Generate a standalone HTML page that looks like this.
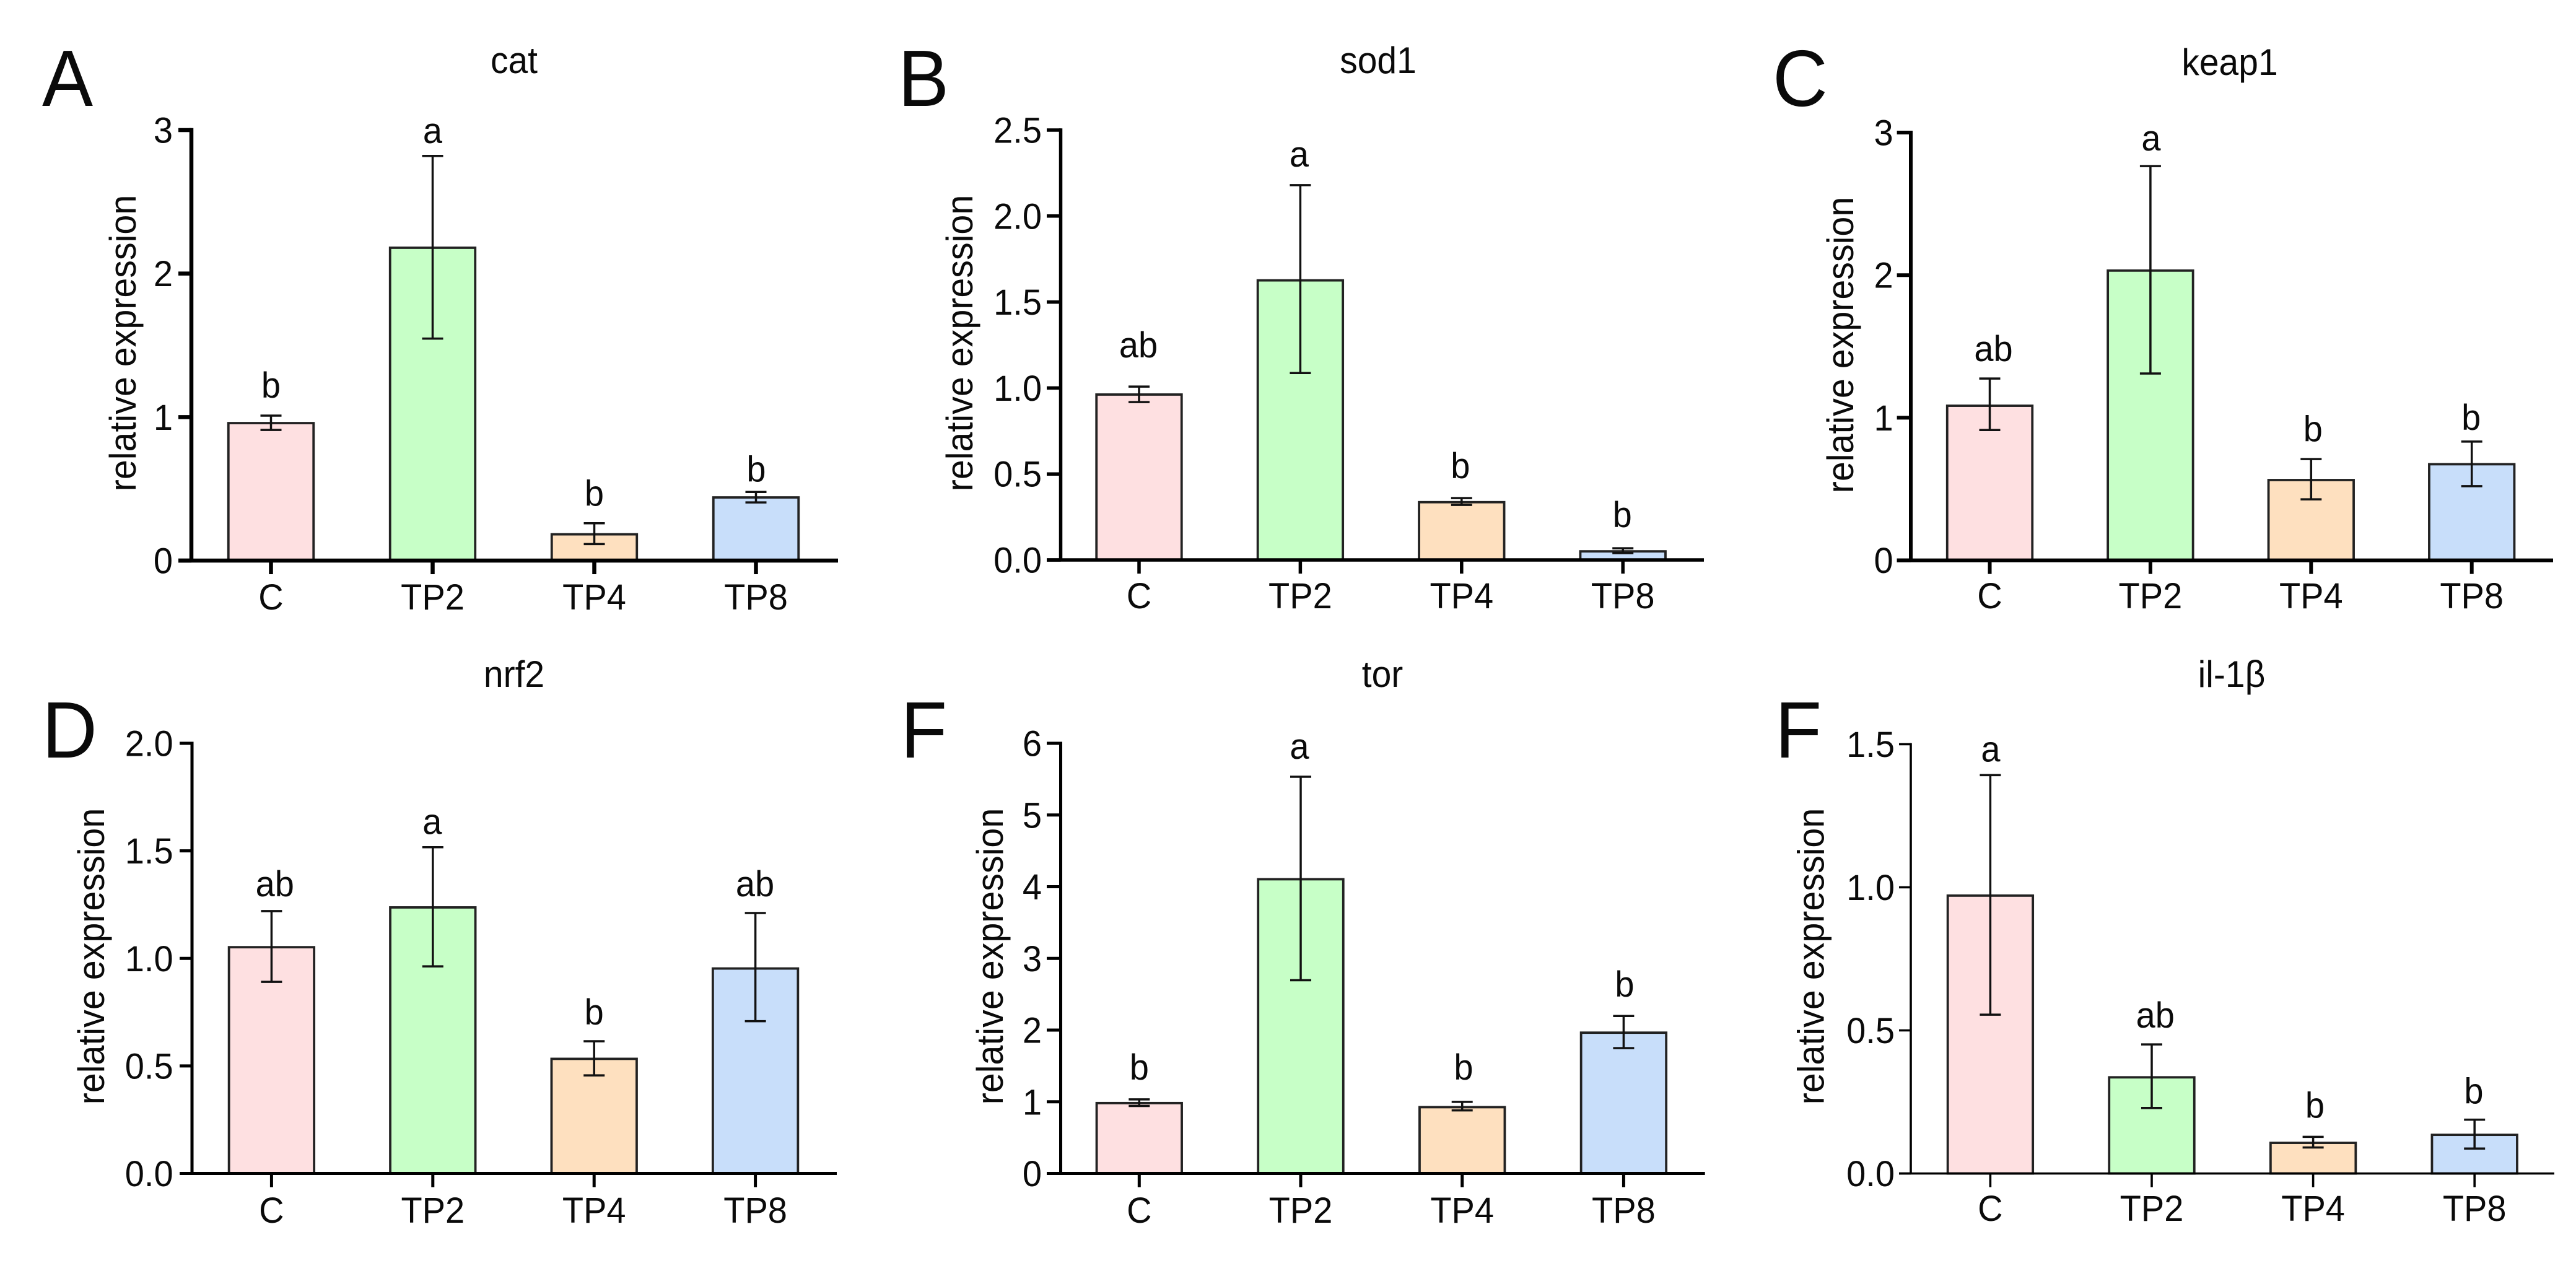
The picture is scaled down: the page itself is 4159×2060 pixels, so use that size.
<!DOCTYPE html>
<html lang="en">
<head>
<meta charset="utf-8">
<title>Relative expression bar charts</title>
<style>
html,body{margin:0;padding:0;background:#fff;}
svg{display:block;}
text{font-family:"Liberation Sans",Arial,sans-serif;fill:#0a0a0a;}
</style>
</head>
<body>
<svg id="figure" xmlns="http://www.w3.org/2000/svg" width="4159" height="2060" viewBox="0 0 4159 2060">
<rect x="0" y="0" width="4159" height="2060" fill="#ffffff"/>
</svg>
<script>
const categories = ['C', 'TP2', 'TP4', 'TP8'];
const yAxisTitle = 'relative expression';

const catMeans = [0.958, 2.18, 0.183, 0.44];
const catUpper = [1.01, 2.82, 0.26, 0.478];
const catLower = [0.91, 1.547, 0.115, 0.405];
const catLetters = ['b', 'a', 'b', 'b'];
const catTicks = ['0', '1', '2', '3'];

const sodMeans = [0.962, 1.626, 0.336, 0.05];
const sodUpper = [1.008, 2.18, 0.36, 0.068];
const sodLower = [0.918, 1.087, 0.32, 0.04];
const sodLetters = ['ab', 'a', 'b', 'b'];
const sodTicks = ['0.0', '0.5', '1.0', '1.5', '2.0', '2.5'];

const keapMeans = [1.084, 2.032, 0.563, 0.674];
const keapUpper = [1.275, 2.765, 0.71, 0.833];
const keapLower = [0.914, 1.31, 0.428, 0.52];
const keapLetters = ['ab', 'a', 'b', 'b'];
const keapTicks = ['0', '1', '2', '3'];

const nrfMeans = [1.052, 1.237, 0.533, 0.953];
const nrfUpper = [1.22, 1.517, 0.615, 1.211];
const nrfLower = [0.891, 0.963, 0.456, 0.708];
const nrfLetters = ['ab', 'a', 'b', 'ab'];
const nrfTicks = ['0.0', '0.5', '1.0', '1.5', '2.0'];

const torMeans = [0.982, 4.104, 0.925, 1.964];
const torUpper = [1.033, 5.534, 0.999, 2.197];
const torLower = [0.942, 2.696, 0.88, 1.748];
const torLetters = ['b', 'a', 'b', 'b'];
const torTicks = ['0', '1', '2', '3', '4', '5', '6'];

const ilMeans = [0.971, 0.336, 0.107, 0.135];
const ilUpper = [1.392, 0.451, 0.128, 0.188];
const ilLower = [0.555, 0.229, 0.091, 0.087];
const ilLetters = ['a', 'ab', 'b', 'b'];
const ilTicks = ['0.0', '0.5', '1.0', '1.5'];

const barFills = ['#fee0e1', '#c7ffc7', '#fee0bf', '#c8defa'];

const panels = [
  {id:'cat', title:'cat', tag:'A', means:catMeans, upper:catUpper, lower:catLower, letters:catLetters, ticks:catTicks,
   layout:{axisX:309, top:210, base:905, left:288, right:1353, first:437.5, step:261, axisW:6.5, tickEnd:279, titleX:830, titleY:118, tagX:68, tagY:171, ytX:219, ytY:554, xlY:984, lift:[29,20.6,28.3,17], dx:[0,0,0,0.5]}},
  {id:'sod1', title:'sod1', tag:'B', means:sodMeans, upper:sodUpper, lower:sodLower, letters:sodLetters, ticks:sodTicks,
   layout:{axisX:1712.5, top:210, base:904, left:1690, right:2751, first:1839, step:260.4, axisW:5.5, tickEnd:1682, titleX:2225, titleY:118, tagX:1450, tagY:171, ytX:1570, ytY:554, xlY:982, lift:[47,30,32,34], dx:[-1,-2,-2,-1]}},
  {id:'keap1', title:'keap1', tag:'C', means:keapMeans, upper:keapUpper, lower:keapLower, letters:keapLetters, ticks:keapTicks,
   layout:{axisX:3085, top:214, base:904.6, left:3062.6, right:4122, first:3212.5, step:259.4, axisW:6, tickEnd:3056.7, titleX:3600, titleY:121, tagX:2862, tagY:171, ytX:2992, ytY:557, xlY:982, lift:[28,25,28.6,19], dx:[6,1,3,-1]}},
  {id:'nrf2', title:'nrf2', tag:'D', means:nrfMeans, upper:nrfUpper, lower:nrfLower, letters:nrfLetters, ticks:nrfTicks,
   layout:{axisX:310, top:1200, base:1894.5, left:290, right:1351, first:438.4, step:260.4, axisW:5, tickEnd:279.6, titleX:830, titleY:1109, tagX:68, tagY:1223, ytX:168, ytY:1544, xlY:1974, lift:[23.8,21,27,27], dx:[5.4,-1,0,-0.6]}},
  {id:'tor', title:'tor', tag:'F', means:torMeans, upper:torUpper, lower:torLower, letters:torLetters, ticks:torTicks,
   layout:{axisX:1712.5, top:1200, base:1894.5, left:1690, right:2752.7, first:1839.3, step:260.7, axisW:5, tickEnd:1682, titleX:2232, titleY:1109, tagX:1454, tagY:1223, ytX:1618.8, ytY:1544, xlY:1974, lift:[32,29,36,31], dx:[0,-2,2.3,1.6]}},
  {id:'il-1b', title:'il-1\u03b2', tag:'F', means:ilMeans, upper:ilUpper, lower:ilLower, letters:ilLetters, ticks:ilTicks,
   layout:{axisX:3085, top:1201.5, base:1894.5, left:3066, right:4124, first:3213.4, step:260.6, axisW:3.6, tickEnd:3059, titleX:3603, titleY:1109, tagX:2866, tagY:1223, ytX:2944.7, ytY:1544, xlY:1971, lift:[22,27,31,26], dx:[0.6,5.7,2.8,-1.2]}}
];

const SVG_NS = 'http://www.w3.org/2000/svg';
const figure = document.getElementById('figure');
const TEXT_STRETCH = 1.05;

function make(tag, attrs, parent, content) {
  const node = document.createElementNS(SVG_NS, tag);
  for (const key in attrs) { node.setAttribute(key, attrs[key]); }
  if (content !== undefined) { node.textContent = content; }
  parent.appendChild(node);
  return node;
}

function stretchAt(x, y, rotation) {
  return 'translate(' + x + ' ' + y + ') ' + (rotation ? 'rotate(' + rotation + ') ' : '') + 'scale(1 ' + TEXT_STRETCH + ')';
}

function drawPanel(p) {
  const L = p.layout;
  const maxValue = Number(p.ticks[p.ticks.length - 1]);
  const yScale = function (v) { return L.base - (v / maxValue) * (L.base - L.top); };
  const xScale = function (i) { return L.first + i * L.step; };
  const barWidth = 137.5;
  const capHalf = 17;
  let el;

  const g = make('g', {}, figure);
  
  

  el = make('text', {transform:stretchAt(L.tagX, L.tagY), 'font-size':123}, g, p.tag);
  
  

  el = make('text', {transform:stretchAt(L.titleX, L.titleY), 'font-size':57, 'text-anchor':'middle'}, g, p.title);
  
  

  el = make('text', {transform:stretchAt(L.ytX, L.ytY, -90), 'font-size':57.4, 'text-anchor':'middle'}, g, yAxisTitle);
  
  

  categories.forEach(function (cat, i) {
    const cx = xScale(i);
    const topY = yScale(p.means[i]);

    el = make('rect', {x:cx - barWidth / 2, y:topY, width:barWidth, height:L.base - topY, fill:barFills[i], stroke:'#222222', 'stroke-width':3.8}, g);
    
    

    const upY = yScale(p.upper[i]);
    const loY = yScale(p.lower[i]);
    el = make('path', {d:'M' + (cx - capHalf) + ' ' + upY + 'H' + (cx + capHalf) + 'M' + cx + ' ' + upY + 'V' + loY + 'M' + (cx - capHalf) + ' ' + loY + 'H' + (cx + capHalf), fill:'none', stroke:'#111111', 'stroke-width':3.5}, g);
    
    

    el = make('text', {transform:stretchAt(cx + L.dx[i], upY - L.lift[i]), 'font-size':56, 'text-anchor':'middle'}, g, p.letters[i]);
    
    

    el = make('line', {x1:cx, x2:cx, y1:L.base, y2:L.base + 22, stroke:'#000000', 'stroke-width':L.axisW}, g);
    
    

    el = make('text', {transform:stretchAt(cx, L.xlY), 'font-size':56, 'text-anchor':'middle'}, g, cat);
    
    
  });

  p.ticks.forEach(function (label) {
    const ty = yScale(Number(label));

    el = make('line', {x1:L.left, x2:L.axisX, y1:ty, y2:ty, stroke:'#000000', 'stroke-width':L.axisW}, g);
    
    

    el = make('text', {transform:stretchAt(L.tickEnd, ty + 20.5), 'font-size':56, 'text-anchor':'end'}, g, label);
    
    
  });

  el = make('line', {x1:L.axisX, x2:L.axisX, y1:L.top - L.axisW / 2, y2:L.base, stroke:'#000000', 'stroke-width':L.axisW}, g);
  
  

  el = make('line', {x1:L.left, x2:L.right, y1:L.base, y2:L.base, stroke:'#000000', 'stroke-width':L.axisW}, g);
  
  
}

panels.forEach(drawPanel);
</script>
</body>
</html>
